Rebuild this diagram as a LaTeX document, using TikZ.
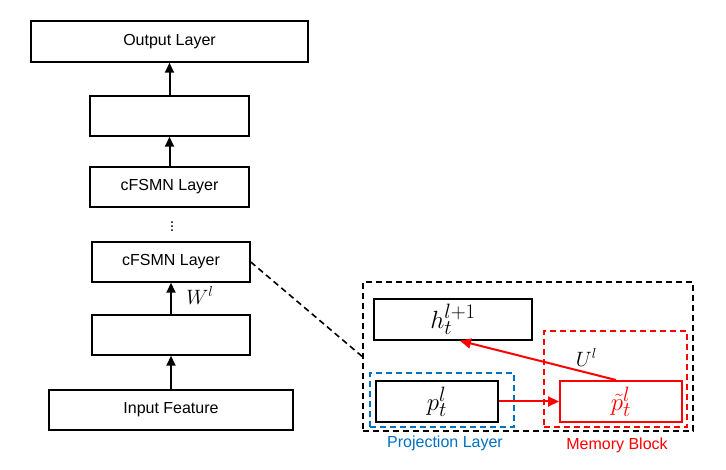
\documentclass[tikz,border=0pt]{standalone}
\usepackage{fontspec}
\setmainfont{Liberation Sans}
\usetikzlibrary{arrows.meta}
\definecolor{projblue}{RGB}{0,112,192}
\tikzstyle{every node}=[font=\fontsize{16}{19}\selectfont]
\tikzstyle{layer} = [rectangle, line width=1.5pt, draw=black, inner sep=0pt]
\tikzstyle{bigmath} = [font=\fontsize{28}{32}\selectfont]
\tikzstyle{arrow} = [line width=2pt,-{Triangle[length=10pt,width=9pt]}]
\tikzstyle{redarrow} = [line width=2pt, red, -{Triangle[length=11pt,width=10pt]}]
\tikzstyle{bigrect} = [rectangle, inner sep=0pt, line width=1.6pt, dash pattern=on 6pt off 4pt]

\begin{document}
\begin{tikzpicture}[x=1pt, y=-1pt]
        \useasboundingbox (0,0) rectangle (726,470);
        % left stack
        \node (out) [layer, minimum width=277pt, minimum height=41pt] at (169.5,41.5) {Output Layer};
        \node (hid2) [layer, minimum width=159pt, minimum height=40pt] at (169.5,116) {};
        \node (fsmn2) [layer, minimum width=159pt, minimum height=40pt] at (169.5,187) {cFSMN Layer};
        \node (dots) at (172,224) {$\vdots$};
        \node (fsmn1) [layer, minimum width=158pt, minimum height=40pt] at (171,262) {cFSMN Layer};
        \node (hid1) [layer, minimum width=158pt, minimum height=40pt] at (171,335) {};
        \node (inp) [layer, minimum width=244pt, minimum height=40pt] at (171,410) {Input Feature};

        \draw [arrow] (hid2) -- (out);
        \draw [arrow] (fsmn2) -- (hid2);
        \draw [arrow] (hid1) -- node [right, xshift=11pt, yshift=3pt, font=\fontsize{20}{24}\selectfont] {$W^l$} (fsmn1);
        \draw [arrow] (inp) -- (hid1);

        % expanded cFSMN cell
        \node (cell) [bigrect, draw=black, minimum width=330pt, minimum height=149pt] at (528,356.5) {};
        \node (proj) [bigrect, draw=projblue, minimum width=144pt, minimum height=54pt] at (442,400) {};
        \node (mem) [bigrect, draw=red, minimum width=143pt, minimum height=96pt] at (615.5,379) {};
        \node (h) [layer, bigmath, minimum width=158pt, minimum height=41pt] at (453,319.5) {$h_t^{l+1}$};
        \node (p) [layer, bigmath, minimum width=122pt, minimum height=41pt] at (437,401.5) {$p_t^l$};
        \node (pt) [layer, bigmath, line width=2pt, draw=red, text=red, minimum width=122pt, minimum height=41pt] at (621,401.5) {$\tilde{p}_t^l$};
        \node (projlbl) [text=projblue] at (445,443) {Projection Layer};
        \node (memlbl) [text=red] at (617,445) {Memory Block};

        \draw [bigrect] (fsmn1.east) -- (cell.west);
        \draw [redarrow] (p) -- (pt);
        \draw [redarrow] ([xshift=-5pt]pt.north) -- node [pos=0.19, above=2pt, text=black, font=\fontsize{20}{24}\selectfont] {$U^l$} ([xshift=7pt]h.south);
      \end{tikzpicture}
\end{document}
